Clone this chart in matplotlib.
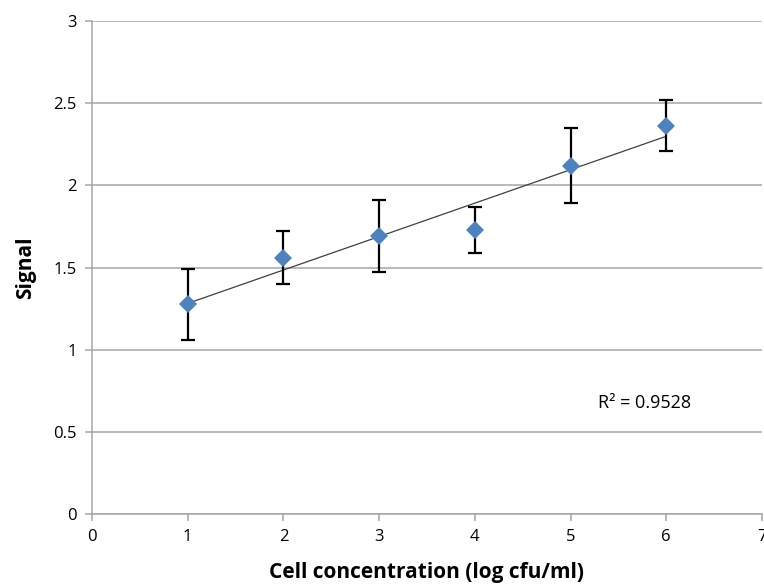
import numpy as np
import matplotlib.pyplot as plt

plt.rcParams['font.family'] = ['Open Sans', 'DejaVu Sans']

# values
conc = [1, 2, 3, 4, 5, 6]
signal = [1.28, 1.56, 1.69, 1.73, 2.12, 2.36]
err_hi = [1.49, 1.72, 1.91, 1.87, 2.35, 2.52]
err_lo = [1.06, 1.40, 1.47, 1.59, 1.89, 2.21]
r2_text = "R² = 0.9528"

yerr = [np.array(signal) - np.array(err_lo), np.array(err_hi) - np.array(signal)]

fig = plt.figure(figsize=(7.64, 5.86), dpi=100)
ax = fig.add_axes([92/764, 1 - 514/586, (762-92)/764, (514-21)/586])

# linear trend line over the data range
slope, icpt = np.polyfit(conc, signal, 1)
xt = np.array([conc[0], conc[-1]])
ax.plot(xt, slope * xt + icpt, color='#404040', lw=0.9, zorder=2)

ax.errorbar(conc, signal, yerr=yerr, fmt='none', ecolor='black', elinewidth=1.6,
            capsize=5, capthick=1.6, zorder=3)
ax.plot(conc, signal, 'D', color='#4F81BD', markersize=9, markeredgewidth=0, zorder=4)

ax.set_xlim(0, 7)
ax.set_ylim(0, 3)
ax.set_xticks(range(8))
ax.set_yticks([0, 0.5, 1, 1.5, 2, 2.5, 3])
ax.set_yticklabels(['0', '0.5', '1', '1.5', '2', '2.5', '3'])
ax.grid(axis='y', color='#a6a6a6', lw=1.1)
ax.set_axisbelow(True)

for s in ['top', 'right']:
    ax.spines[s].set_visible(False)
for s in ['left', 'bottom']:
    ax.spines[s].set_color('#a6a6a6')
    ax.spines[s].set_linewidth(1.1)
ax.tick_params(colors='#a6a6a6', labelcolor='black', labelsize=12, length=5, width=1.1, pad=6)

ax.set_xlabel('Cell concentration (log cfu/ml)', fontsize=15, fontweight='bold', labelpad=12)
ax.set_ylabel('Signal', fontsize=15, fontweight='bold', labelpad=12)

ax.text(5.29, 0.675, r2_text, fontsize=13, va='center', ha='left')

fig.savefig('out.png', dpi=100)
